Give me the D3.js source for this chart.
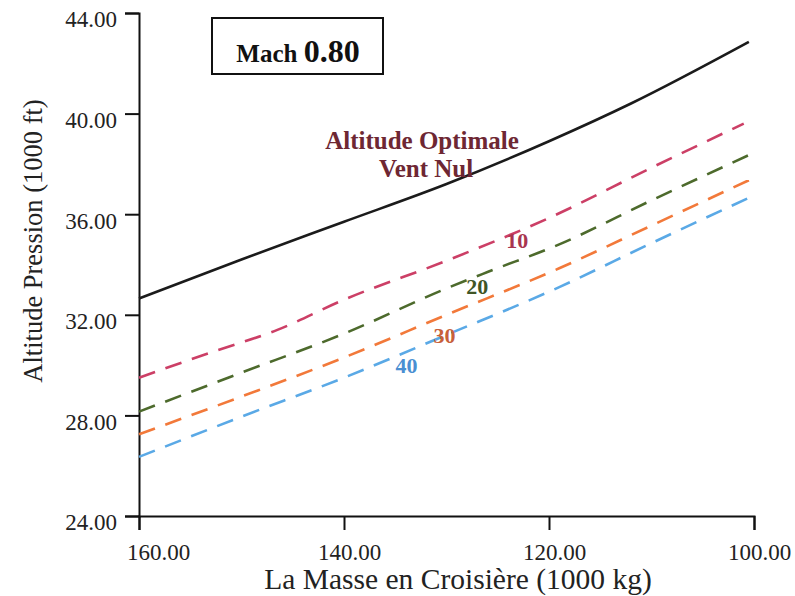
<!DOCTYPE html>
<html>
<head>
<meta charset="utf-8">
<script src="https://cdn.jsdelivr.net/npm/d3@7"></script>
<style>
  body { margin: 0; background: #fff; }
  svg { display: block; }
</style>
</head>
<body>
<svg></svg>
<script>
// data
const massTicks = [160, 140, 120, 100];
const altTicks = [24, 28, 32, 36, 40, 44];

const optimalMass = [160, 150, 140, 130, 120, 112, 100.5];
const optimalAlt = [32.65, 34.2, 35.7, 37.2, 38.9, 40.4, 42.85];

const wind10Mass = [160, 153, 146.5, 140, 130, 120, 110, 101];
const wind10Alt = [29.5, 30.5, 31.4, 32.6, 34.15, 35.85, 37.85, 39.6];

const wind20Mass = [160, 150, 140, 130, 126, 119, 110, 100.5];
const wind20Alt = [28.15, 29.7, 31.25, 33.05, 33.7, 34.8, 36.55, 38.35];

const wind30Mass = [160, 150, 140, 130, 119, 110, 100.5];
const wind30Alt = [27.25, 28.75, 30.3, 32.0, 33.85, 35.55, 37.35];

const wind40Mass = [160, 150, 140, 130, 119, 110, 100.5];
const wind40Alt = [26.35, 27.95, 29.5, 31.2, 33.1, 34.85, 36.65];

const windLabels = ['10', '20', '30', '40'];
const labelMass = [123.1, 127.0, 130.2, 133.9];
const labelAlt = [34.66, 32.83, 30.88, 29.69];

const WIDTH = 795;
const HEIGHT = 596;
const FONT = '"Liberation Serif", "Times New Roman", serif';

let svg = d3.select('svg').attr('width', WIDTH).attr('height', HEIGHT);

let xScale = d3.scaleLinear().domain([160, 100]).range([139, 754]);
let yScale = d3.scaleLinear().domain([24, 44]).range([516, 13]);

// axes
let xAxis = svg.append('g').attr('transform', 'translate(0,516)')
  .call(d3.axisBottom(xScale).tickValues(massTicks).tickSize(14).tickPadding(14)
    .tickFormat(d3.format('.2f')));
let yAxis = svg.append('g').attr('transform', 'translate(139,0)')
  .call(d3.axisLeft(yScale).tickValues(altTicks).tickSize(14).tickPadding(8)
    .tickFormat(d3.format('.2f')));

[xAxis, yAxis].forEach(function(ax) {
  ax.selectAll('path, line').attr('stroke', '#111').attr('stroke-width', 2);
  ax.selectAll('text').attr('fill', '#222').style('font-family', FONT).style('font-size', '23px');
});
xAxis.selectAll('text').attr('dx', function(d) { return d == 160 ? 19 : 5; });
yAxis.selectAll('text').attr('dy', '0.6em');

svg.append('text').attr('x', 458).attr('y', 589).attr('text-anchor', 'middle')
  .style('font-family', FONT).style('font-size', '29.5px').attr('fill', '#222')
  .text('La Masse en Croisière (1000 kg)');
svg.append('text').attr('transform', 'translate(42,241) rotate(-90)').attr('text-anchor', 'middle')
  .style('font-family', FONT).style('font-size', '26.5px').attr('fill', '#222')
  .text('Altitude Pression (1000 ft)');

// curves
let line = d3.line()
  .x(function(d) { return xScale(d[0]); })
  .y(function(d) { return yScale(d[1]); })
  .curve(d3.curveMonotoneX);

function drawCurve(mass, alt, colour, dash) {
  svg.append('path')
    .datum(d3.zip(mass, alt))
    .attr('d', line)
    .attr('fill', 'none')
    .attr('stroke', colour)
    .attr('stroke-width', 2.6)
    .attr('stroke-dasharray', dash);
}

drawCurve(optimalMass, optimalAlt, '#1b1b1b', null);
drawCurve(wind10Mass, wind10Alt, '#cc3f66', '17,11');
drawCurve(wind20Mass, wind20Alt, '#4d6a2c', '17,11');
drawCurve(wind30Mass, wind30Alt, '#f2793a', '17,11');
drawCurve(wind40Mass, wind40Alt, '#5aa9e6', '17,11');

const labelColours = ['#a8354f', '#3f5526', '#c8603a', '#4a8fd2'];
windLabels.forEach(function(t, i) {
  svg.append('text')
    .attr('x', xScale(labelMass[i])).attr('y', yScale(labelAlt[i]))
    .attr('text-anchor', 'middle')
    .style('font-family', FONT).style('font-size', '22px').style('font-weight', 'bold')
    .attr('fill', labelColours[i])
    .text(t);
});

// annotation
svg.append('text').attr('x', 422).attr('y', 149).attr('text-anchor', 'middle')
  .style('font-family', FONT).style('font-size', '25px').style('font-weight', 'bold')
  .attr('fill', '#6e2733').text('Altitude Optimale');
svg.append('text').attr('x', 426).attr('y', 177).attr('text-anchor', 'middle')
  .style('font-family', FONT).style('font-size', '25px').style('font-weight', 'bold')
  .attr('fill', '#6e2733').text('Vent Nul');

// Mach box
svg.append('rect').attr('x', 212).attr('y', 18).attr('width', 171).attr('height', 56)
  .attr('fill', 'none').attr('stroke', '#111').attr('stroke-width', 2);
let mach = svg.append('text').attr('x', 298).attr('y', 62).attr('text-anchor', 'middle')
  .style('font-family', FONT).style('font-weight', 'bold').attr('fill', '#111');
mach.append('tspan').style('font-size', '25px').text('Mach ');
mach.append('tspan').style('font-size', '32px').text('0.80');
</script>
</body>
</html>
